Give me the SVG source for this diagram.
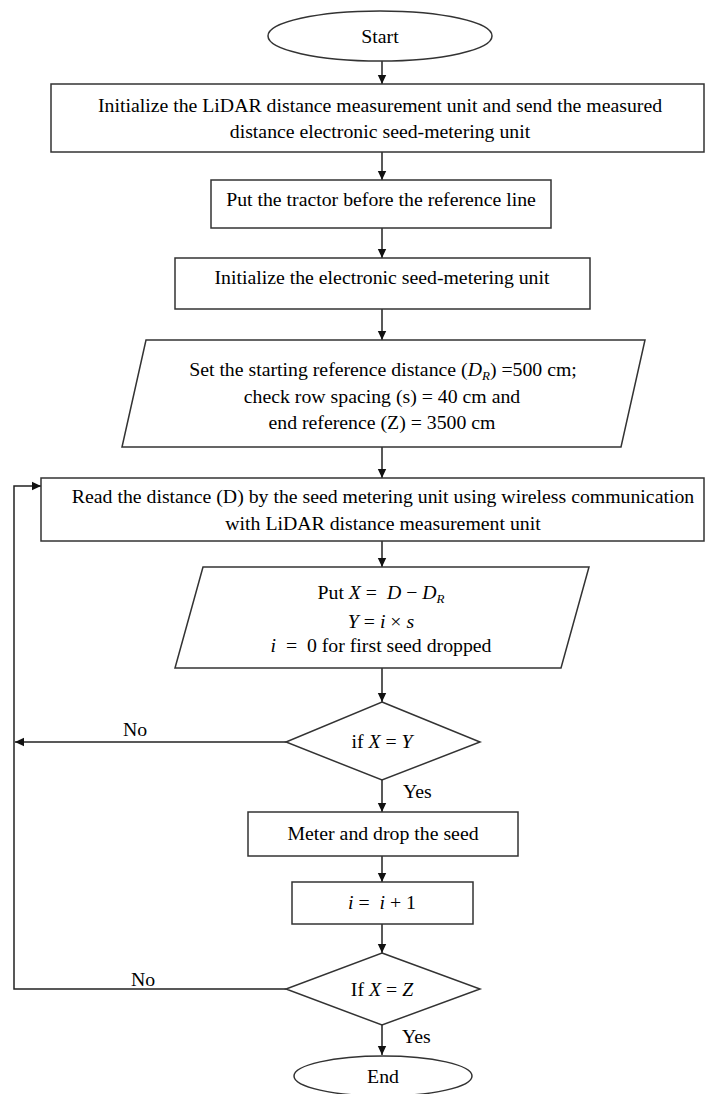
<svg xmlns="http://www.w3.org/2000/svg" width="710" height="1094" viewBox="0 0 710 1094">
<defs>
<marker id="ah" markerWidth="10" markerHeight="10" refX="9" refY="5" orient="auto" markerUnits="userSpaceOnUse">
<path d="M0,0.8 L9,5 L0,9.2 Z" fill="#111"/>
</marker>
<style>
.s{fill:#fff;stroke:#333;stroke-width:1.5}
.t{font-family:"Liberation Serif","Times New Roman",serif;font-size:19.8px;fill:#000;text-anchor:middle}
.l{font-family:"Liberation Serif","Times New Roman",serif;font-size:19.8px;fill:#000}
.m{font-style:italic}
.c{fill:none;stroke:#222;stroke-width:1.5}
</style>
</defs>
<rect width="710" height="1094" fill="#fff"/>
<g id="connectors">
<path class="c" d="M382,61 V84" marker-end="url(#ah)"/>
<path class="c" d="M382,152 V180" marker-end="url(#ah)"/>
<path class="c" d="M382,228 V258" marker-end="url(#ah)"/>
<path class="c" d="M382,309 V340" marker-end="url(#ah)"/>
<path class="c" d="M382,447 V478" marker-end="url(#ah)"/>
<path class="c" d="M382,541 V567" marker-end="url(#ah)"/>
<path class="c" d="M382,668 V702" marker-end="url(#ah)"/>
<path class="c" d="M382,780 V812" marker-end="url(#ah)"/>
<path class="c" d="M382,856 V882" marker-end="url(#ah)"/>
<path class="c" d="M382,924 V953" marker-end="url(#ah)"/>
<path class="c" d="M382,1025 V1055" marker-end="url(#ah)"/>
<path class="c" d="M286,742 H15" marker-end="url(#ah)"/>
<path class="c" d="M286,989 H14 V486 H41" marker-end="url(#ah)"/>
<text class="l" x="123" y="736">No</text>
<text class="l" x="131" y="986">No</text>
<text class="l" x="403" y="798">Yes</text>
<text class="l" x="402" y="1043">Yes</text>
</g>
<g id="start">
<ellipse class="s" cx="380" cy="36" rx="112" ry="25"/>
<text class="t" x="380" y="43">Start</text>
</g>
<g id="init-lidar">
<rect class="s" x="51" y="84" width="653" height="68"/>
<text class="t" x="380" y="112">Initialize the LiDAR distance measurement unit and send the measured</text>
<text class="t" x="380" y="138">distance electronic seed-metering unit</text>
</g>
<g id="put-tractor">
<rect class="s" x="211" y="180" width="340" height="48"/>
<text class="t" x="381" y="206">Put the tractor before the reference line</text>
</g>
<g id="init-seed">
<rect class="s" x="175" y="258" width="415" height="51"/>
<text class="t" x="382" y="284">Initialize the electronic seed-metering unit</text>
</g>
<g id="set-reference">
<polygon class="s" points="146,340 645,340 621,447 122,447"/>
<text class="t" x="383" y="376">Set the starting reference distance (<tspan class="m">D</tspan><tspan class="m" font-size="13px" dy="4">R</tspan><tspan dy="-4">) =500 cm;</tspan></text>
<text class="t" x="382" y="403">check row spacing (s) = 40 cm and</text>
<text class="t" x="382" y="429">end reference (Z) = 3500 cm</text>
</g>
<g id="read-distance">
<rect class="s" x="41" y="478" width="663" height="63"/>
<text class="t" x="383" y="503">Read the distance (D) by the seed metering unit using wireless communication</text>
<text class="t" x="383" y="530">with LiDAR distance measurement unit</text>
</g>
<g id="compute">
<polygon class="s" points="203,567 589,567 561,668 175,668"/>
<text class="t" x="381" y="599">Put <tspan class="m">X</tspan>&#160;=&#160;&#160;<tspan class="m">D</tspan>&#160;−&#160;<tspan class="m">D</tspan><tspan class="m" font-size="13px" dy="4">R</tspan></text>
<text class="t" x="381" y="628"><tspan class="m">Y</tspan>&#160;=&#160;<tspan class="m">i</tspan>&#160;×&#160;<tspan class="m">s</tspan></text>
<text class="t" x="381" y="652"><tspan class="m">i</tspan>&#160;&#160;=&#160;&#160;0 for first seed dropped</text>
</g>
<g id="check-xy">
<polygon class="s" points="382,702 480,742 382,780 286,742"/>
<text class="t" x="382" y="748">if <tspan class="m">X</tspan>&#160;=&#160;<tspan class="m">Y</tspan></text>
</g>
<g id="meter-drop">
<rect class="s" x="248" y="812" width="270" height="44"/>
<text class="t" x="383" y="840">Meter and drop the seed</text>
</g>
<g id="increment">
<rect class="s" x="292" y="882" width="181" height="42"/>
<text class="t" x="382" y="909"><tspan class="m">i</tspan>&#160;=&#160;&#160;<tspan class="m">i</tspan>&#160;+&#160;1</text>
</g>
<g id="check-xz">
<polygon class="s" points="382,953 480,989 382,1025 286,989"/>
<text class="t" x="382" y="996">If <tspan class="m">X</tspan>&#160;=&#160;<tspan class="m">Z</tspan></text>
</g>
<g id="end">
<ellipse class="s" cx="383" cy="1076" rx="89" ry="20"/>
<text class="t" x="383" y="1083">End</text>
</g>
</svg>
